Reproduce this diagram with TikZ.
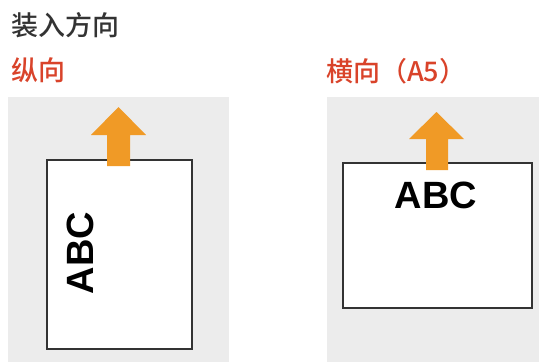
\documentclass[tikz,border=0pt]{standalone}
\usepackage{fontspec}
\newfontfamily\cjk{Noto Sans CJK SC}[BoldFont={Noto Sans CJK SC Medium}]
\newfontfamily\abcfont{Liberation Sans Bold}
\definecolor{panelgray}{HTML}{ECECEC}
\definecolor{titlegray}{HTML}{333333}
\definecolor{labelred}{HTML}{D9432A}
\definecolor{arroworange}{HTML}{F09A26}
\tikzset{
  panel/.style={fill=panelgray, draw=none},
  paper/.style={fill=white, draw=titlegray, line width=1.6pt, inner sep=0pt, anchor=north west},
  feedarrow/.style={fill=arroworange, draw=none},
  cjktext/.style={inner sep=0pt, anchor=base west, font=\cjk\bfseries\fontsize{27}{31}\selectfont},
  abctext/.style={inner sep=0pt, anchor=base, font=\abcfont\fontsize{38}{44}\selectfont, text=black},
}
\begin{document}
\begin{tikzpicture}[x=1pt,y=-1pt]
\useasboundingbox (0,0) rectangle (539,362);
% panels
\fill[panel] (8,97) rectangle (229,362);
\fill[panel] (327,97) rectangle (539,362);
% titles
\node[cjktext, text=titlegray] (title) at (11,35) {装入方向};
\node[cjktext, text=labelred] (portrait) at (11,80) {纵向};
\node[cjktext, text=labelred] (landscape) at (326,81) {横向（A5）};
% papers
\node[paper, minimum width=145pt, minimum height=189pt] (paperL) at (46,159) {};
\node[paper, minimum width=189pt, minimum height=145pt] (paperR) at (342,162) {};
% arrows
\fill[feedarrow] (107,166) -- (107,135) -- (91,135) -- (118.5,107) -- (146,135) -- (130,135) -- (130,166) -- cycle;
\fill[feedarrow] (426,170) -- (426,139) -- (409,139) -- (436.5,112) -- (464,139) -- (448,139) -- (448,170) -- cycle;
% texts
\node[abctext, rotate=90] (abcL) at (93,253) {ABC};
\node[abctext] (abcR) at (436,208) {ABC};
\end{tikzpicture}
\end{document}
